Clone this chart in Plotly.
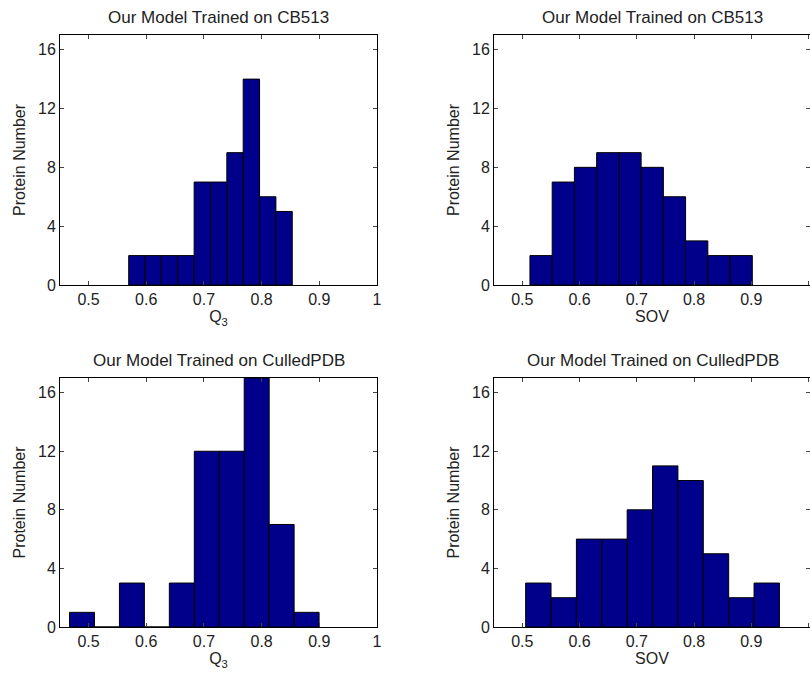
import plotly.graph_objects as go

# ---- data (bin edges / counts) ----
q3_cb513_start, q3_cb513_width = 0.5696, 0.02835
q3_cb513_counts = [2, 2, 2, 2, 7, 7, 9, 14, 6, 5]

sov_cb513_start, sov_cb513_width = 0.5133, 0.03884
sov_cb513_counts = [2, 7, 8, 9, 9, 8, 6, 3, 2, 2]

q3_culled_start, q3_culled_width = 0.4670, 0.04326
q3_culled_counts = [1, 0, 3, 0, 3, 12, 12, 17, 7, 1]

sov_culled_start, sov_culled_width = 0.5058, 0.04433
sov_culled_counts = [3, 2, 6, 6, 8, 11, 10, 5, 2, 3]

titles = ["Our Model Trained on CB513", "Our Model Trained on CB513",
          "Our Model Trained on CulledPDB", "Our Model Trained on CulledPDB"]
xlabels = ["Q<sub>3</sub>", "SOV", "Q<sub>3</sub>", "SOV"]
ylabel = "Protein Number"
xtick_vals = [0.5, 0.6, 0.7, 0.8, 0.9, 1.0]
xtick_text = ["0.5", "0.6", "0.7", "0.8", "0.9", "1"]
ytick_vals = [0, 4, 8, 12, 16]

panels = [
    (q3_cb513_start, q3_cb513_width, q3_cb513_counts),
    (sov_cb513_start, sov_cb513_width, sov_cb513_counts),
    (q3_culled_start, q3_culled_width, q3_culled_counts),
    (sov_culled_start, sov_culled_width, sov_culled_counts),
]

W, H = 810, 675
# pixel boxes (left, right, top, bottom)
boxes = [(60, 377, 35, 285), (494, 810, 35, 285),
         (60, 377, 378, 627), (494, 810, 378, 627)]

font_fam = "Liberation Sans, Arial, sans-serif"
txt = "#222"
fig = go.Figure()
layout = dict(width=W, height=H, margin=dict(l=0, r=0, t=0, b=0, autoexpand=False),
              paper_bgcolor="white", plot_bgcolor="white", showlegend=False,
              font=dict(family=font_fam, size=16, color=txt),
              annotations=[])

for i, ((start, width, counts), (l, r, t, b)) in enumerate(zip(panels, boxes)):
    n = i + 1
    xa = "x" if n == 1 else f"x{n}"
    ya = "y" if n == 1 else f"y{n}"
    centers = [start + width * (k + 0.5) for k in range(len(counts))]
    fig.add_trace(go.Bar(x=centers, y=counts, width=[width] * len(counts),
                         marker=dict(color="#00008B", line=dict(color="black", width=1)),
                         xaxis=xa, yaxis=ya, hoverinfo="x+y"))
    xdom = [l / W, r / W]
    ydom = [1 - b / H, 1 - t / H]
    axkey = "xaxis" if n == 1 else f"xaxis{n}"
    aykey = "yaxis" if n == 1 else f"yaxis{n}"
    xr = [0.4505, 1.0] if n in (1, 3) else [0.4505, 1.0025]
    layout[axkey] = dict(domain=xdom, anchor=ya, range=xr, automargin=False,
                         tickvals=xtick_vals, ticktext=xtick_text,
                         ticks="inside", ticklen=4, tickcolor="#444",
                         showline=True, linecolor="black", linewidth=1, mirror="allticks",
                         showgrid=False, zeroline=False,
                         tickfont=dict(size=16, family=font_fam, color=txt),
                         title=dict(text=xlabels[i], standoff=0,
                                    font=dict(size=16, family=font_fam, color=txt)))
    layout[aykey] = dict(domain=ydom, anchor=xa, range=[0, 17], automargin=False,
                         tickvals=ytick_vals,
                         ticks="inside", ticklen=4, tickcolor="#444",
                         showline=True, linecolor="black", linewidth=1, mirror="allticks",
                         showgrid=False, zeroline=False,
                         tickfont=dict(size=16, family=font_fam, color=txt),
                         title=dict(text=ylabel, standoff=8,
                                    font=dict(size=16, family=font_fam, color=txt)))
    cx = (l + r) / 2 / W if n in (1, 3) else (494 + 811) / 2 / W
    layout["annotations"].append(dict(
        text=titles[i], x=cx, y=1 - (t - 18) / H, xref="paper", yref="paper",
        xanchor="center", yanchor="middle",
        showarrow=False, font=dict(size=17, family=font_fam, color=txt)))

fig.update_layout(**layout)
fig.write_html("out.html", config={"displayModeBar": False})

# remove the default page margin so the figure fills the window exactly
with open("out.html", encoding="utf-8") as f:
    html = f.read()
html = html.replace("<head>", "<head><style>html,body{margin:0;padding:0;overflow:hidden;}</style>", 1)
with open("out.html", "w", encoding="utf-8") as f:
    f.write(html)
